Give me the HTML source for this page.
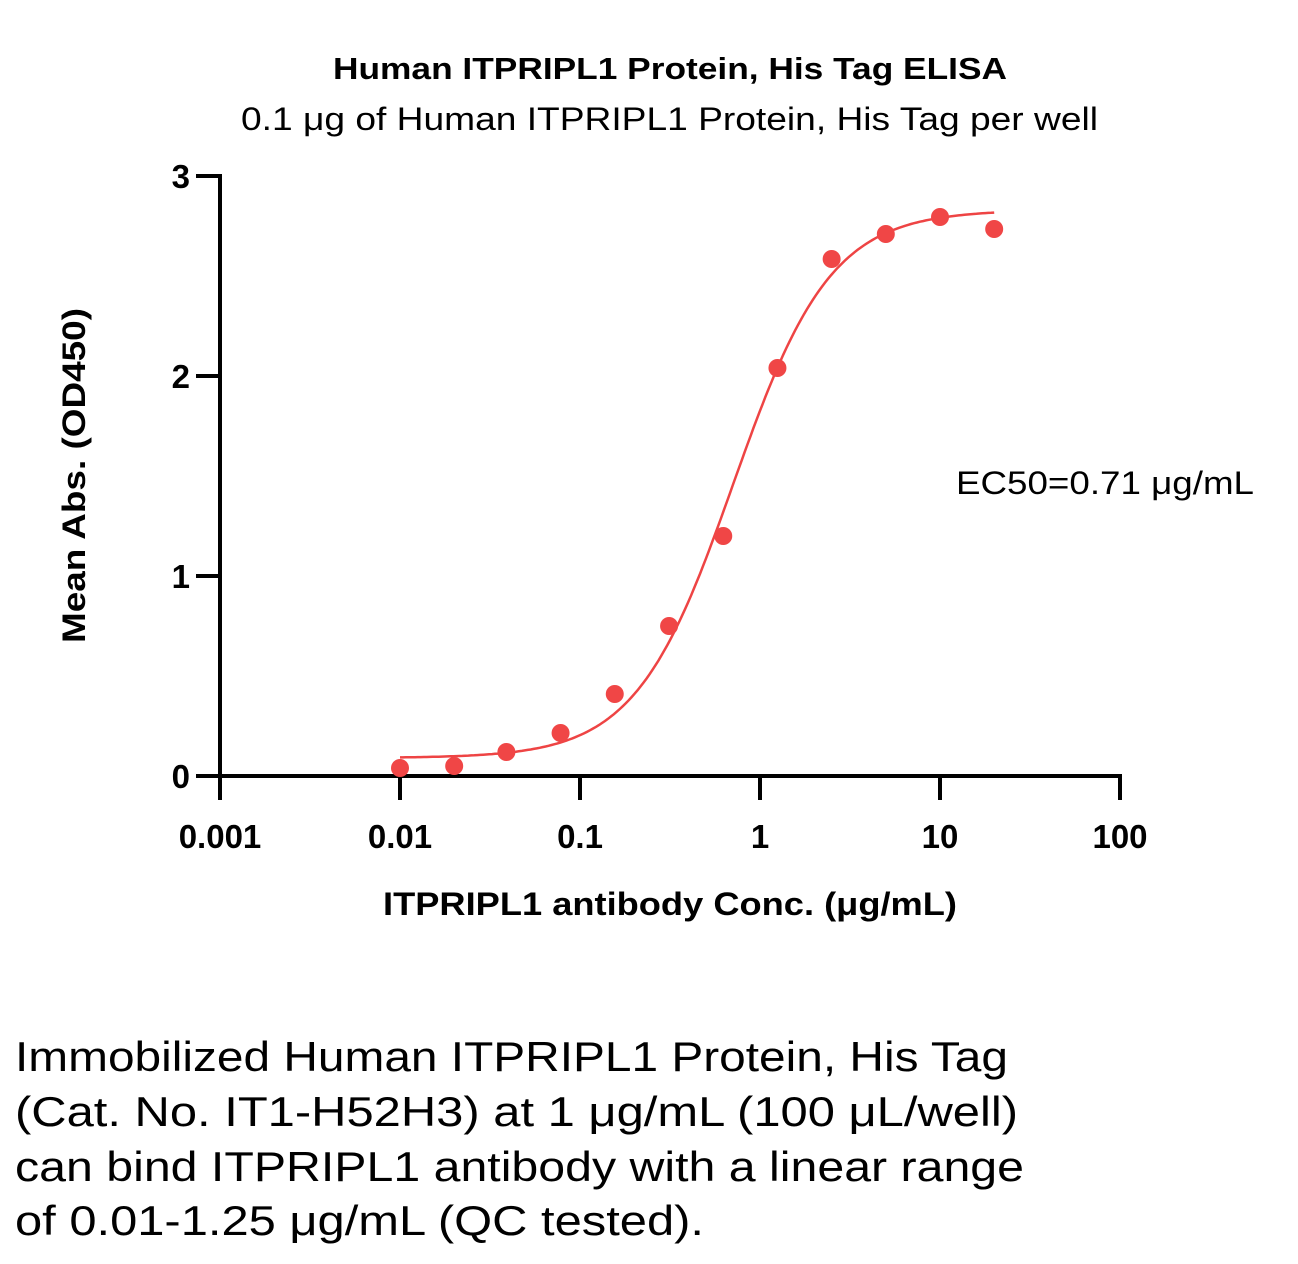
<!DOCTYPE html>
<html><head><meta charset="utf-8"><style>
body{margin:0;background:#fff;width:1298px;height:1259px;overflow:hidden;font-family:"Liberation Sans",sans-serif}
</style></head><body>
<svg id="chart" width="1298" height="1259" xmlns="http://www.w3.org/2000/svg" font-family="Liberation Sans, sans-serif">
<text x="333" y="79" font-size="31" font-weight="bold" textLength="674" lengthAdjust="spacingAndGlyphs">Human ITPRIPL1 Protein, His Tag ELISA</text>
<text x="241" y="130" font-size="32" textLength="857" lengthAdjust="spacingAndGlyphs">0.1 μg of Human ITPRIPL1 Protein, His Tag per well</text>
<g id="axes"></g>
<g id="marks"></g>
<text transform="translate(85,643) rotate(-90)" font-size="32" font-weight="bold" textLength="335" lengthAdjust="spacingAndGlyphs">Mean Abs. (OD450)</text>
<text x="383" y="915" font-size="32" font-weight="bold" textLength="574" lengthAdjust="spacingAndGlyphs">ITPRIPL1 antibody Conc. (μg/mL)</text>
<text x="956" y="494" font-size="32" textLength="298" lengthAdjust="spacingAndGlyphs">EC50=0.71 μg/mL</text>
<g font-size="42">
<text x="15" y="1071" textLength="993" lengthAdjust="spacingAndGlyphs">Immobilized Human ITPRIPL1 Protein, His Tag</text>
<text x="15" y="1126" textLength="1003" lengthAdjust="spacingAndGlyphs">(Cat. No. IT1-H52H3) at 1 μg/mL (100 μL/well)</text>
<text x="15" y="1181" textLength="1009" lengthAdjust="spacingAndGlyphs">can bind ITPRIPL1 antibody with a linear range</text>
<text x="15" y="1235" textLength="689" lengthAdjust="spacingAndGlyphs">of 0.01-1.25 μg/mL (QC tested).</text>
</g>
</svg>
<script>
const concs=[0.01,0.02,0.039,0.078,0.156,0.3125,0.625,1.25,2.5,5,10,20];
const absValues=[0.04,0.05,0.12,0.215,0.41,0.75,1.2,2.04,2.585,2.71,2.795,2.735];
const fitParams=[0.09,2.83,0.71,1.6]; // bottom, top, EC50, hill
const xTicks=[0.001,0.01,0.1,1,10,100];
const xTickLabels=["0.001","0.01","0.1","1","10","100"];
const yTicks=[0,1,2,3];
const yTickLabels=["0","1","2","3"];
const NS="http://www.w3.org/2000/svg";
const X=v=>220+180*(Math.log10(v)+3);
const Y=v=>776-200*v;
function mk(t,a,p){const e=document.createElementNS(NS,t);for(const k in a)e.setAttribute(k,a[k]);p.appendChild(e);return e;}
const ax=document.getElementById('axes'),mg=document.getElementById('marks');
let l=mk('line',{x1:220,y1:Y(3)-2,x2:220,y2:778,stroke:'#000','stroke-width':4},ax);


l=mk('line',{x1:218,y1:776,x2:X(100)+2,y2:776,stroke:'#000','stroke-width':4},ax);


yTicks.forEach((v,i)=>{
 const t=mk('line',{x1:196,y1:Y(v),x2:220,y2:Y(v),stroke:'#000','stroke-width':4},ax);
 
 
 const s=mk('text',{x:190,y:Y(v)+12,'text-anchor':'end','font-size':33,'font-weight':'bold'},ax);
 s.textContent=yTickLabels[i];
 
 
});
xTicks.forEach((v,i)=>{
 const t=mk('line',{x1:X(v),y1:776,x2:X(v),y2:800,stroke:'#000','stroke-width':4},ax);
 
 
 const s=mk('text',{x:X(v),y:848,'text-anchor':'middle','font-size':33,'font-weight':'bold'},ax);
 s.textContent=xTickLabels[i];
 
 
});
const [b,tp,ec,h]=fitParams;
let d='';
const lo=Math.log10(concs[0]),hi=Math.log10(concs[concs.length-1]);
for(let i=0;i<=200;i++){const lx=lo+(hi-lo)*i/200,c=Math.pow(10,lx);const yv=b+(tp-b)/(1+Math.pow(ec/c,h));d+=(i?'L':'M')+X(c).toFixed(1)+','+Y(yv).toFixed(1);}
const p=mk('path',{d:d,fill:'none',stroke:'#ee4444','stroke-width':2.5},mg);


concs.forEach((c,i)=>{
 const e=mk('circle',{cx:X(c),cy:Y(absValues[i]),r:9,fill:'#f04646'},mg);
 
 
});
</script>
</body></html>
